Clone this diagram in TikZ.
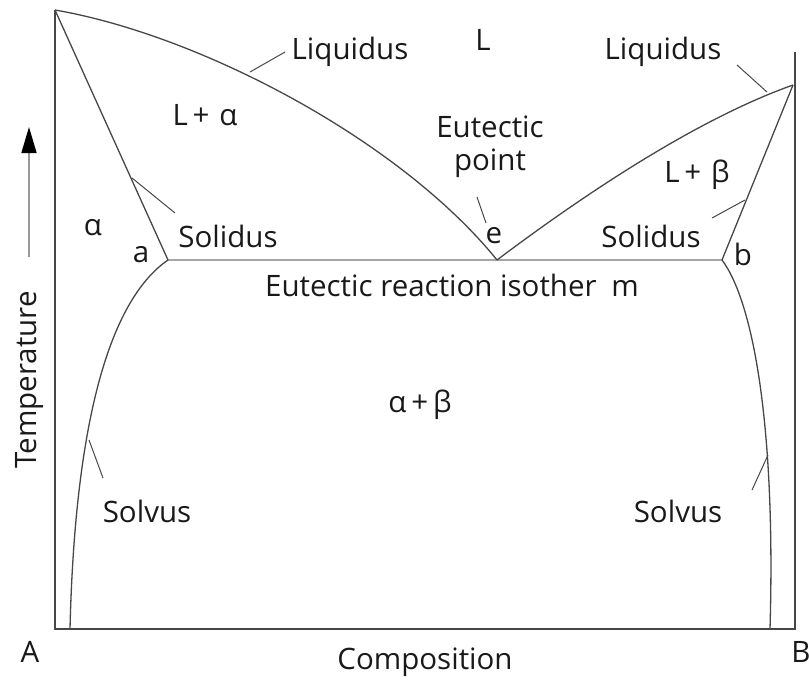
\documentclass[tikz,border=0pt]{standalone}
\usepackage{fontspec}
\setmainfont{Open Sans}
\usetikzlibrary{arrows.meta}
\begin{document}
\begin{tikzpicture}[x=1pt,y=-1pt,
  ln/.style={draw=black!72,line width=1.3pt},
  iso/.style={draw=black!35,line width=2.6pt},
  lbl/.style={inner sep=0pt,font=\fontsize{29.5}{35}\selectfont,text=black!90}]
\useasboundingbox (0,0) rectangle (809,681);
% key points
\coordinate (pA) at (55,10);
\coordinate (pB) at (793,85);
\coordinate (e) at (497,260);
\coordinate (a) at (168,260);
\coordinate (b) at (722,260);
\coordinate (A0) at (55,629);
\coordinate (B0) at (795,629);
\coordinate (Btop) at (795,52);
\coordinate (sa) at (70,629);
\coordinate (sb) at (770,629);
% frame
\draw[ln] (pA) -- (A0) -- (B0) -- (Btop);
% eutectic isotherm
\draw[iso] (a) -- (b);
% liquidus
\draw[ln] (pA) .. controls (200,35) and (400,140) .. (e);
\draw[ln] (e) .. controls (590,190) and (700,118) .. (pB);
% solidus
\draw[ln] (pA) -- (a);
\draw[ln] (b) -- (pB);
% solvus
\draw[ln] (a) .. controls (110,300) and (75,420) .. (sa);
\draw[ln] (b) .. controls (752,300) and (776,420) .. (sb);
% leader ticks
\coordinate (t1a) at (250,72);   \coordinate (t1b) at (285,52);
\coordinate (t2a) at (767,92);   \coordinate (t2b) at (737,65);
\coordinate (t3a) at (132,178);  \coordinate (t3b) at (175,213);
\coordinate (t4a) at (745,200);  \coordinate (t4b) at (712,218);
\coordinate (t5a) at (477,197);  \coordinate (t5b) at (486,223);
\coordinate (t6a) at (89,440);   \coordinate (t6b) at (103,478);
\coordinate (t7a) at (768,455);  \coordinate (t7b) at (752,490);
\foreach \t in {1,...,7} {\draw[ln,line width=1pt] (t\t a) -- (t\t b);}
% temperature arrow
\coordinate (ta0) at (29,257);
\coordinate (ta1) at (29,127);
\draw[draw=black!40,line width=1.6pt,-{Triangle[length=26pt,width=15pt,fill=black,color=black]}] (ta0) -- (ta1);
% labels
\node[lbl] (liqL) at (350,52) {Liquidus};
\node[lbl] (L) at (483,40) {L};
\node[lbl] (liqR) at (663,52) {Liquidus};
\node[lbl] (La) at (205,115) {L\,+\,\,α};
\node[lbl] (eut) at (490,127) {Eutectic};
\node[lbl] (pt) at (490,163) {point};
\node[lbl] (Lb) at (697,175) {L\,+\,\,β};
\node[lbl] (alpha) at (93,228) {α};
\node[lbl] (solL) at (228,236) {Solidus};
\node[lbl] (la) at (141,255) {a};
\node[lbl] (le) at (494,236) {e};
\node[lbl] (solR) at (651,236) {Solidus};
\node[lbl] (lb) at (743,254) {b};
\node[lbl,anchor=west] (iso) at (265,285) {Eutectic reaction isother};
\node[lbl] (m) at (625,288) {m};
\node[lbl] (ab) at (420,405) {α\,+\,β};
\node[lbl] (svL) at (147,511) {Solvus};
\node[lbl] (svR) at (678,511) {Solvus};
\node[lbl] (lA) at (30,652) {A};
\node[lbl] (comp) at (425,662) {Composition};
\node[lbl] (lB) at (801,652) {B};
\node[lbl,rotate=90] (temp) at (30,380) {Temperature};
\end{tikzpicture}
\end{document}
